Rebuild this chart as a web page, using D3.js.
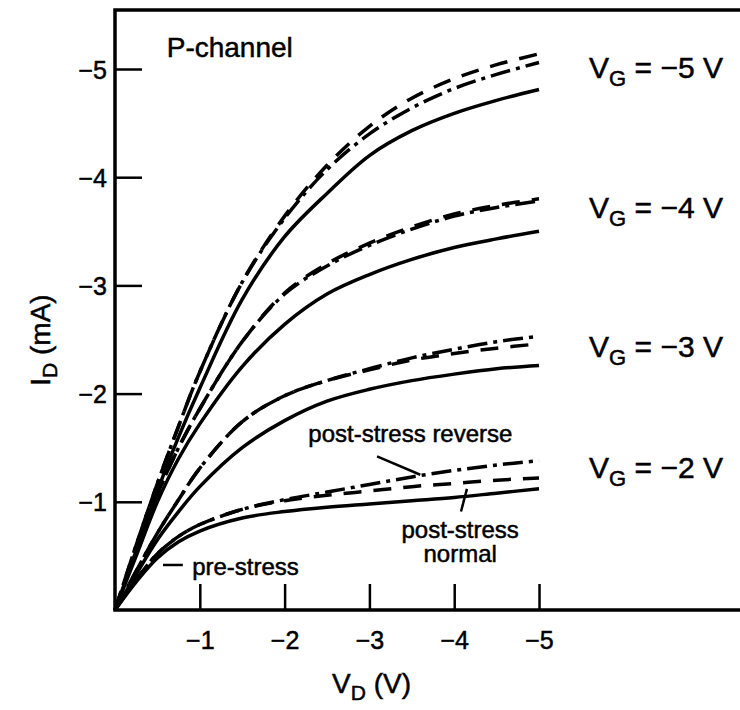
<!DOCTYPE html>
<html>
<head>
<meta charset="utf-8">
<script src="https://cdn.jsdelivr.net/npm/d3@7"></script>
<style>
  body { margin: 0; background: #fff; }
  svg { font-family: "Liberation Sans", Arial, Helvetica, sans-serif; }
  svg text { stroke: #000; stroke-width: 0.5px; fill: #000; }
</style>
</head>
<body>
<svg id="chart" width="740" height="710"></svg>
<script>
// drain voltage samples (V)
var vd = [0, -0.25, -0.5, -0.75, -1, -1.5, -2, -2.5, -3, -3.5, -4, -4.5, -5];

// drain current (mA), one array per gate voltage / stress state
var pre5  = [0, -0.55, -1.10, -1.60, -2.05, -2.87, -3.45, -3.85, -4.20, -4.43, -4.59, -4.71, -4.81];
var norm5 = [0, -0.60, -1.17, -1.70, -2.20, -3.03, -3.64, -4.11, -4.47, -4.73, -4.91, -5.04, -5.14];
var rev5  = [0, -0.60, -1.17, -1.70, -2.20, -3.03, -3.62, -4.07, -4.40, -4.64, -4.82, -4.95, -5.06];

var pre4  = [0, -0.50, -1.00, -1.40, -1.72, -2.25, -2.64, -2.92, -3.10, -3.24, -3.35, -3.43, -3.50];
var norm4 = [0, -0.55, -1.07, -1.50, -1.86, -2.48, -2.93, -3.20, -3.39, -3.54, -3.66, -3.74, -3.80];
var rev4  = [0, -0.55, -1.07, -1.50, -1.86, -2.48, -2.92, -3.18, -3.37, -3.52, -3.64, -3.72, -3.78];

var pre3  = [0, -0.33, -0.65, -0.91, -1.14, -1.50, -1.75, -1.93, -2.04, -2.12, -2.18, -2.23, -2.26];
var norm3 = [0, -0.36, -0.71, -1.02, -1.31, -1.74, -1.98, -2.12, -2.22, -2.31, -2.37, -2.42, -2.46];
var rev3  = [0, -0.36, -0.71, -1.02, -1.31, -1.74, -1.98, -2.12, -2.23, -2.33, -2.41, -2.48, -2.53];

var pre2  = [0, -0.26, -0.48, -0.63, -0.73, -0.85, -0.91, -0.95, -0.98, -1.01, -1.04, -1.08, -1.12];
var norm2 = [0, -0.28, -0.52, -0.68, -0.79, -0.93, -1.01, -1.06, -1.10, -1.14, -1.17, -1.20, -1.22];
var rev2  = [0, -0.28, -0.52, -0.68, -0.79, -0.93, -1.02, -1.09, -1.16, -1.23, -1.29, -1.34, -1.38];

var xTicks = [-1, -2, -3, -4, -5];
var yTicks = [-1, -2, -3, -4, -5];

var gateLabels = ["\u22125 V", "\u22124 V", "\u22123 V", "\u22122 V"];
var gateLabelY = [-4.92, -3.62, -2.34, -1.22];

var svg = d3.select('#chart');

var xMax = -7.37, yTop = -5.545;
var x = d3.scaleLinear().domain([0, xMax]).range([115, 740]);
var y = d3.scaleLinear().domain([0, -5]).range([610, 69]);

var line = d3.line()
    .x(function(d) { return x(d[0]); })
    .y(function(d) { return y(d[1]); })
    .curve(d3.curveCatmullRom.alpha(0.5));

var series = [
  { v: pre5, dash: null }, { v: norm5, dash: '18,12' }, { v: rev5, dash: '20,6,4,6' },
  { v: pre4, dash: null }, { v: norm4, dash: '18,12' }, { v: rev4, dash: '20,6,4,6' },
  { v: pre3, dash: null }, { v: norm3, dash: '18,12' }, { v: rev3, dash: '20,6,4,6' },
  { v: pre2, dash: null }, { v: norm2, dash: '18,12' }, { v: rev2, dash: '20,6,4,6' }
];

// frame: top, left, bottom (right side runs off the page)
svg.append('path')
    .attr('d', 'M' + x(xMax) + ',' + y(yTop) + 'H' + x(0) + 'V' + y(0) + 'H' + x(xMax))
    .attr('fill', 'none')
    .attr('stroke', '#000')
    .attr('stroke-width', 3.5);

// axes with inward ticks
var xAxis = d3.axisBottom(x).tickValues(xTicks).tickSize(-26).tickPadding(14).tickFormat(d3.format('d'));
var yAxis = d3.axisLeft(y).tickValues(yTicks).tickSize(-27).tickPadding(8).tickFormat(d3.format('d'));

var gx = svg.append('g').attr('transform', 'translate(0,' + y(0) + ')').call(xAxis);
var gy = svg.append('g').attr('transform', 'translate(' + x(0) + ',0)').call(yAxis);

[gx, gy].forEach(function(g) {
  g.select('.domain').remove();
  g.selectAll('line').attr('stroke', '#000').attr('stroke-width', 2.5);
  g.selectAll('text')
      .attr('fill', '#000')
      .style('font-size', '25px')
      .style('font-family', '"Liberation Sans", Arial, sans-serif');
});
gx.selectAll('text').attr('dy', '1em');
gy.selectAll('text').attr('dy', '0.36em');

// curves
svg.append('g').selectAll('path')
    .data(series)
  .enter()
  .append('path')
    .attr('d', function(s) { return line(vd.map(function(v, i) { return [v, s.v[i]]; })); })
    .attr('fill', 'none')
    .attr('stroke', '#000')
    .attr('stroke-width', 3.5)
    .attr('stroke-dasharray', function(s) { return s.dash; });

// axis titles
var yt = svg.append('text')
    .attr('transform', 'translate(50,340) rotate(-90)')
    .attr('text-anchor', 'middle')
    .style('font-size', '28px');
yt.append('tspan').text('I');
yt.append('tspan').attr('dy', 7).style('font-size', '21px').text('D');
yt.append('tspan').attr('dy', -7).text(' (mA)');

var xt = svg.append('text')
    .attr('x', 332)
    .attr('y', 693)
    .style('font-size', '28px');
xt.append('tspan').text('V');
xt.append('tspan').attr('dy', 7).style('font-size', '21px').text('D');
xt.append('tspan').attr('dy', -7).text(' (V)');

// annotations
svg.append('text')
    .attr('x', x(-0.61))
    .attr('y', y(-5.11))
    .style('font-size', '28px')
    .text('P-channel');

gateLabels.forEach(function(lbl, i) {
  var t = svg.append('text')
      .attr('x', x(-5.59))
      .attr('y', y(gateLabelY[i]))
      .style('font-size', '30px');
  t.append('tspan').text('V');
  t.append('tspan').attr('dy', 8).style('font-size', '22px').text('G');
  t.append('tspan').attr('dy', -8).text(' = ' + lbl);
});

svg.append('text')
    .attr('x', x(-0.91))
    .attr('y', y(-0.32))
    .style('font-size', '24px')
    .text('pre-stress');

svg.append('text')
    .attr('x', x(-2.28))
    .attr('y', y(-1.55))
    .style('font-size', '24px')
    .text('post-stress reverse');

svg.append('text')
    .attr('x', x(-4.07))
    .attr('y', y(-0.67))
    .attr('text-anchor', 'middle')
    .style('font-size', '24px')
    .text('post-stress');

svg.append('text')
    .attr('x', x(-4.07))
    .attr('y', y(-0.44))
    .attr('text-anchor', 'middle')
    .style('font-size', '24px')
    .text('normal');

var leaders = [
  [[-0.566, -0.416], [-0.80, -0.416]],
  [[-3.09, -1.42], [-3.60, -1.25]],
  [[-4.15, -1.12], [-4.08, -0.91]]
];

svg.append('g').selectAll('line')
    .data(leaders)
  .enter()
  .append('line')
    .attr('x1', function(d) { return x(d[0][0]); })
    .attr('y1', function(d) { return y(d[0][1]); })
    .attr('x2', function(d) { return x(d[1][0]); })
    .attr('y2', function(d) { return y(d[1][1]); })
    .attr('stroke', '#000')
    .attr('stroke-width', 2.5);
</script>
</body>
</html>
